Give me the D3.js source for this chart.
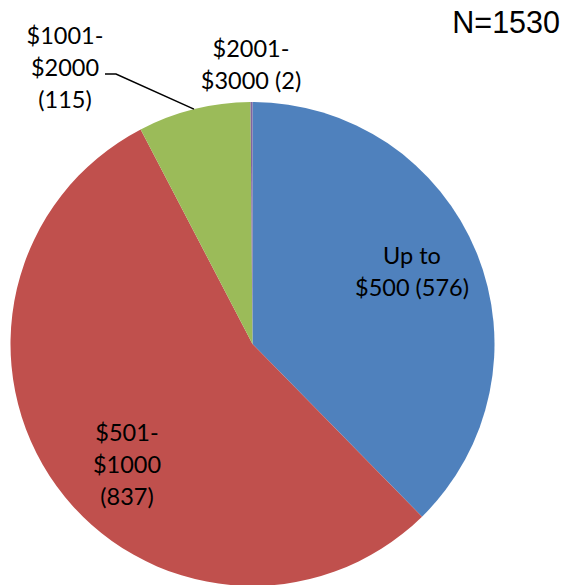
<!DOCTYPE html>
<html>
<head>
<meta charset="utf-8">
<script src="https://cdn.jsdelivr.net/npm/d3@7"></script>
<style>
  body { margin: 0; background: #fff; }
  .label { font-family: Lato, 'Open Sans', sans-serif; font-size: 23.5px; fill: #000; }
  .note { font-family: 'Liberation Sans', Arial, sans-serif; font-size: 30.5px; fill: #000; }
</style>
</head>
<body>
<script>
var categories = ['Up to $500', '$501-$1000', '$1001-$2000', '$2001-$3000'];
var counts = [576, 837, 115, 2];
var colors = ['#4F81BD', '#C0504D', '#9BBB59', '#8064A2'];
var labelLines = [
  ['Up to', '$500 (576)'],
  ['$501-', '$1000', '(837)'],
  ['$1001-', '$2000', '(115)'],
  ['$2001-', '$3000 (2)']
];
// label centres, as placed in the original chart
var labelPos = [[412, 255], [127, 432], [65, 35], [251, 48]];

var width = 562, height = 585;
var cx = 252.5, cy = 344, radius = 242;

var svg = d3.select('body')
  .append('svg')
  .attr('width', width)
  .attr('height', height);

var data = categories.map(function(c, i) { return {name: c, value: counts[i], i: i}; });

var pie = d3.pie()
  .sort(null)
  .value(function(d) { return d.value; });

var arc = d3.arc()
  .innerRadius(0)
  .outerRadius(radius);

var g = svg.append('g')
  .attr('transform', 'translate(' + cx + ',' + cy + ')');

var arcs = pie(data);

g.selectAll('path')
  .data(arcs)
  .enter().append('path')
  .attr('d', arc)
  .style('fill', function(d) { return colors[d.data.i]; });

// leader line for the $1001-$2000 slice
var green = arcs[2];
var mid = (green.startAngle + green.endAngle) / 2;
var pt = [cx + Math.sin(mid) * radius, cy - Math.cos(mid) * radius];
svg.append('polyline')
  .attr('points', [[105, 74], [116, 74], pt].map(function(p) { return p.join(','); }).join(' '))
  .style('fill', 'none')
  .style('stroke', '#000')
  .style('stroke-width', 1.5);

// labels
data.forEach(function(d, i) {
  var lines = labelLines[i];
  var t = svg.append('text')
    .attr('class', 'label')
    .attr('text-anchor', 'middle');
  lines.forEach(function(l, j) {
    t.append('tspan')
      .attr('x', labelPos[i][0])
      .attr('y', labelPos[i][1] + j * 32.3 + 8.5)
      .text(l);
  });
});

svg.append('text')
  .attr('class', 'note')
  .attr('x', 560)
  .attr('y', 33)
  .attr('text-anchor', 'end')
  .text('N=' + d3.sum(counts));
</script>
</body>
</html>
